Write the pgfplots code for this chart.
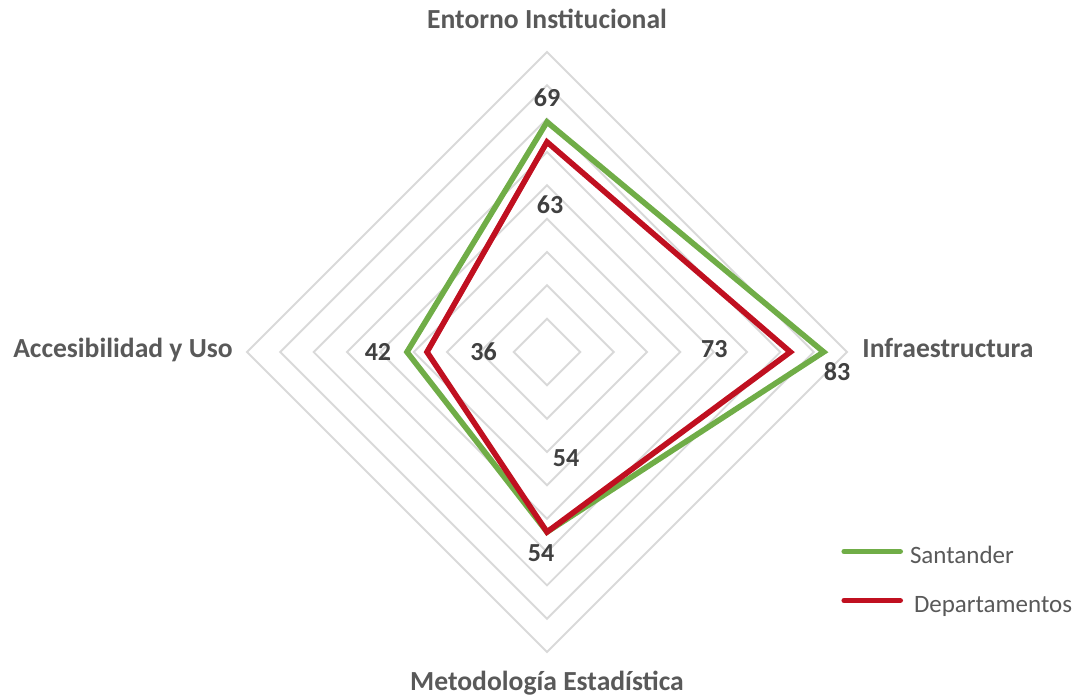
\documentclass[border=0pt]{standalone}
\usepackage{pgfplots}
\pgfplotsset{compat=1.18}
\usepackage{fontspec}
\setmainfont{Carlito}
\definecolor{sgreen}{RGB}{112,173,71}
\definecolor{dred}{RGB}{192,16,32}
\definecolor{gridgray}{RGB}{217,217,217}
\definecolor{labgray}{RGB}{89,89,89}
\definecolor{valgray}{RGB}{64,64,64}
\tikzset{
  gridline/.style={gridgray, line width=0.95pt, line join=miter},
  valnode/.style={font=\fontsize{13}{15}\selectfont\bfseries, text=valgray, inner sep=0pt, anchor=center},
  catnode/.style={font=\fontsize{13.8}{16}\selectfont\bfseries, text=labgray, inner sep=0pt},
}
\begin{document}
\begin{tikzpicture}
\begin{axis}[
  x=1.66667pt, y=1.66667pt,
  xmin=-90, xmax=90, ymin=-90, ymax=90,
  hide axis, clip=false,
  legend style={draw=none, fill=none, at={(axis cs:88.2,-69.0)}, anchor=west,
    inner sep=0pt, column sep=3.5pt, row sep=12.5pt,
    font=\fontsize{12.5}{15}\selectfont, text=labgray,
    nodes={inner sep=0pt, text height=9pt, text depth=3pt}},
  legend cell align=left,
  legend image code/.code={\draw[#1, line width=2.8pt, line cap=round] (0pt,3pt) -- (28pt,3pt);},
]
\addplot[gridline, forget plot] coordinates {(0,10) (10,0) (0,-10) (-10,0)} -- cycle;
\addplot[gridline, forget plot] coordinates {(0,20) (20,0) (0,-20) (-20,0)} -- cycle;
\addplot[gridline, forget plot] coordinates {(0,30) (30,0) (0,-30) (-30,0)} -- cycle;
\addplot[gridline, forget plot] coordinates {(0,40) (40,0) (0,-40) (-40,0)} -- cycle;
\addplot[gridline, forget plot] coordinates {(0,50) (50,0) (0,-50) (-50,0)} -- cycle;
\addplot[gridline, forget plot] coordinates {(0,60) (60,0) (0,-60) (-60,0)} -- cycle;
\addplot[gridline, forget plot] coordinates {(0,70) (70,0) (0,-70) (-70,0)} -- cycle;
\addplot[gridline, forget plot] coordinates {(0,80) (80,0) (0,-80) (-80,0)} -- cycle;
\addplot[gridline, forget plot] coordinates {(0,90) (90,0) (0,-90) (-90,0)} -- cycle;
% Santander
\addplot[sgreen, line width=2.8pt, line join=miter] coordinates {(0,69) (83,0) (0,-54) (-42,0)} -- cycle;
\addlegendentry{Santander}
% Departamentos
\addplot[dred, line width=2.8pt, line join=miter] coordinates {(0,63) (73,0) (0,-54) (-36,0)} -- cycle;
\addlegendentry{\hspace{2pt}Departamentos}
% value labels
\node[valnode] at (axis cs:0,76.2) {69};
\node[valnode] at (axis cs:0.9,44.1) {63};
\node[valnode] at (axis cs:50.2,0.9) {73};
\node[valnode] at (axis cs:87,-6) {83};
\node[valnode] at (axis cs:5.7,-31.8) {54};
\node[valnode] at (axis cs:-1.8,-60.3) {54};
\node[valnode] at (axis cs:-50.7,0) {42};
\node[valnode] at (axis cs:-19,0) {36};
% category labels
\node[catnode, anchor=base] at (axis cs:0,96.9) {Entorno Institucional};
\node[catnode, anchor=base west] at (axis cs:94.5,-1.5) {Infraestructura};
\node[catnode, anchor=base] at (axis cs:0,-101.4) {Metodología Estadística};
\node[catnode, anchor=base east] at (axis cs:-94.2,-1.5) {Accesibilidad y Uso};
\coordinate (O) at (axis cs:0,0);
\end{axis}
\pgfresetboundingbox
\path (O) ++(-273.5pt,176pt) rectangle ++(543pt,-348.5pt);
\end{tikzpicture}
\end{document}
